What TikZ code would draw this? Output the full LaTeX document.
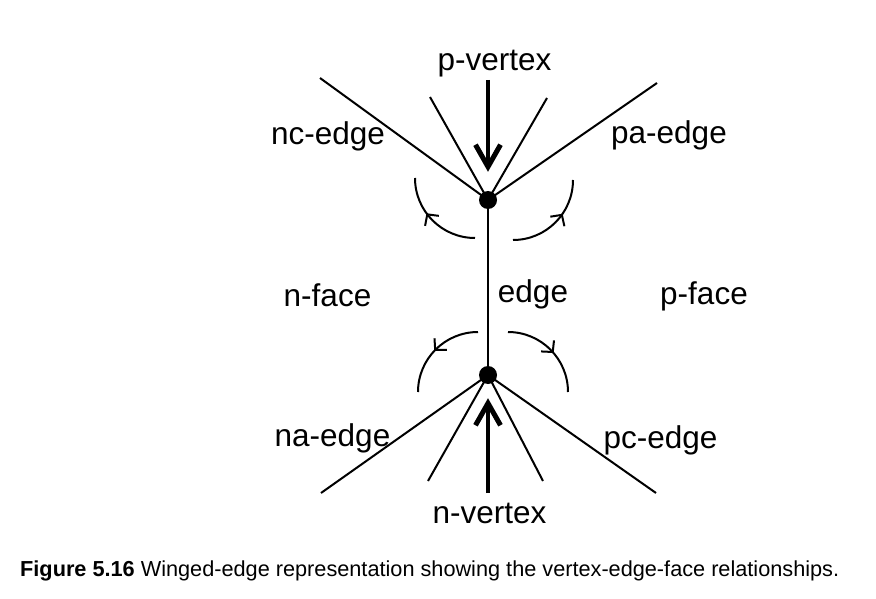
\documentclass[tikz,border=0pt]{standalone}
\usepackage{fontspec}
\setmainfont{Liberation Sans}
\usetikzlibrary{arrows.meta,decorations.markings}
\tikzset{
  lbl/.style={inner sep=0pt, anchor=base, font=\fontsize{31.5}{36}\selectfont},
  thinline/.style={line width=2pt},
  bigarrow/.style={line width=4.5pt, -{Straight Barb[length=22pt,width=25pt,line width=5pt]}},
  vdot/.style={circle, fill=black, inner sep=0pt, minimum size=18pt},
  wing/.style={line width=2pt, postaction={decorate}, decoration={markings,
     mark=at position #1 with {\arrow{Straight Barb[length=8pt,width=17pt,line width=2pt]}}}}
}
\begin{document}
\begin{tikzpicture}[x=1pt,y=-1pt]
\useasboundingbox (0,0) rectangle (876,599);
% vertices
\node[vdot] (pv) at (488,200) {};
\node[vdot] (nv) at (488,375) {};
% edge
\draw[thinline] (pv.center) -- (nv.center);
% top edges
\coordinate (ncend) at (320,78);
\coordinate (t1) at (430,97);
\coordinate (t2) at (547,98);
\coordinate (paend) at (657,83);
\draw[thinline] (ncend) -- (pv.center);
\draw[thinline] (t1) -- (pv.center);
\draw[thinline] (t2) -- (pv.center);
\draw[thinline] (paend) -- (pv.center);
% bottom edges
\coordinate (naend) at (321,493);
\coordinate (b1) at (428,481);
\coordinate (b2) at (543,481);
\coordinate (pcend) at (656,493);
\draw[thinline] (naend) -- (nv.center);
\draw[thinline] (b1) -- (nv.center);
\draw[thinline] (b2) -- (nv.center);
\draw[thinline] (pcend) -- (nv.center);
% vertex arrows
\coordinate (pvs) at (488,80);
\coordinate (nvs) at (488,493);
\draw[bigarrow, shorten >=19pt] (pvs) -- (pv);
\draw[bigarrow, shorten >=14pt] (nvs) -- (nv);
% wing arcs
\draw[wing=0.6] (475,238) arc[start angle=90, end angle=180, radius=60];
\draw[wing=0.62] (513,240) arc[start angle=90, end angle=0, radius=60];
\draw[wing=0.52] (478,332) arc[start angle=270, end angle=180, radius=60];
\draw[wing=0.55] (508,332) arc[start angle=270, end angle=360, radius=60];
% labels
\node[lbl] (lpv) at (494.5,71) {p-vertex};
\node[lbl] (lnc) at (328,145) {nc-edge};
\node[lbl] (lpa) at (669,144) {pa-edge};
\node[lbl] (lnf) at (327.5,306) {n-face};
\node[lbl] (led) at (533,302) {edge};
\node[lbl] (lpf) at (704,304) {p-face};
\node[lbl] (lna) at (332.5,446) {na-edge};
\node[lbl] (lpc) at (660.5,448) {pc-edge};
\node[lbl] (lnv) at (489.5,523) {n-vertex};
% caption
\node[inner sep=0pt, anchor=base west, font=\fontsize{21.7}{26}\selectfont] (cap) at (20,576)
  {\textbf{Figure 5.16} Winged-edge representation showing the vertex-edge-face relationships.};
\end{tikzpicture}
\end{document}
